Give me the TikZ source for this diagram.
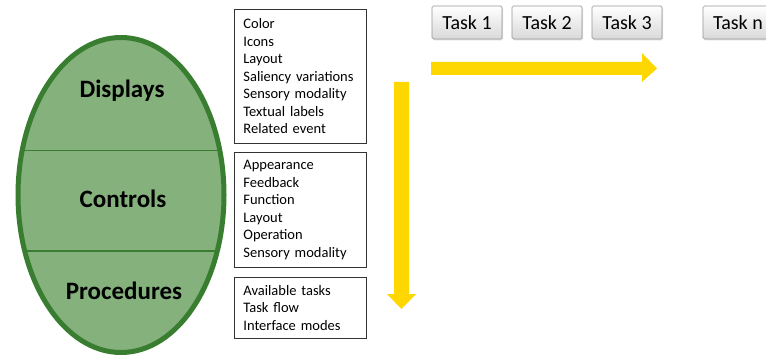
\documentclass[tikz,border=0pt]{standalone}
\usepackage{fontspec}
\setmainfont{Carlito}
\usetikzlibrary{shapes.geometric,shadows}
\definecolor{egreen}{RGB}{132,177,124}
\definecolor{edark}{RGB}{56,125,48}
\definecolor{arrowy}{RGB}{255,215,0}
\definecolor{btnborder}{RGB}{150,150,150}
\tikzset{
  listbox/.style={draw=black!80, line width=0.8pt, anchor=north west, inner xsep=9pt, inner ysep=0pt,
    text width=114pt, align=left, minimum width=132pt, font=\fontsize{14.5}{17.5}\selectfont},
  ovallabel/.style={anchor=base, font=\bfseries\fontsize{25}{28}\selectfont},
  taskbtn/.style={draw=btnborder, line width=0.7pt, rounded corners=1.5pt, top color=white, bottom color=black!15,
    minimum width=70pt, minimum height=33pt, inner sep=0pt, font=\fontsize{20}{22}\selectfont,
    drop shadow={opacity=0.25, shadow xshift=1pt, shadow yshift=-1.5pt}},
  bigarrow/.style={fill=arrowy, draw=none}
}
\begin{document}
\begin{tikzpicture}[x=1pt,y=-1pt]
\clip (0,0) rectangle (766,358);
\fill[white] (0,0) rectangle (766,358);
% oval
\node[ellipse, fill=egreen, draw=edark, line width=5pt, minimum width=206pt, minimum height=315pt, inner sep=0pt] (oval) at (121,195) {};
\draw[edark, line width=1.5pt] (121-99.4,150.7) -- (121+99.4,150.7);
\draw[edark, line width=1.5pt] (121-96.8,251) -- (121+96.8,251);
\node[ovallabel] (displays) at (122,98) {Displays};
\node[ovallabel] (controls) at (123,208) {Controls};
\node[ovallabel] (procedures) at (124,299) {Procedures};
% lists
\node[listbox, minimum height=134pt] (l1) at (234,9) {Color\\Icons\\Layout\\Saliency variations\\Sensory modality\\Textual labels\\Related event};
\node[listbox, minimum height=115pt] (l2) at (234,152) {Appearance\\Feedback\\Function\\Layout\\Operation\\Sensory modality};
\node[listbox, minimum height=61pt] (l3) at (234,277) {Available tasks\\Task flow\\Interface modes};
% arrows
\coordinate (vtop) at (401.5,82);
\coordinate (vtip) at (401.5,309);
\fill[bigarrow] (394,82) -- (409,82) -- (409,294) -- (416,294) -- (vtip) -- (387,294) -- (394,294) -- cycle;
\coordinate (hleft) at (431,68.5);
\coordinate (htip) at (657,68.5);
\fill[bigarrow] (431,62) -- (642,62) -- (642,53) -- (htip) -- (642,82) -- (642,75) -- (431,75) -- cycle;
% tasks
\node[taskbtn] (t1) at (467,22.5) {Task 1};
\node[taskbtn] (t2) at (547,22.5) {Task 2};
\node[taskbtn] (t3) at (627,22.5) {Task 3};
\node[taskbtn] (tn) at (738,22.5) {Task n};
\end{tikzpicture}
\end{document}
